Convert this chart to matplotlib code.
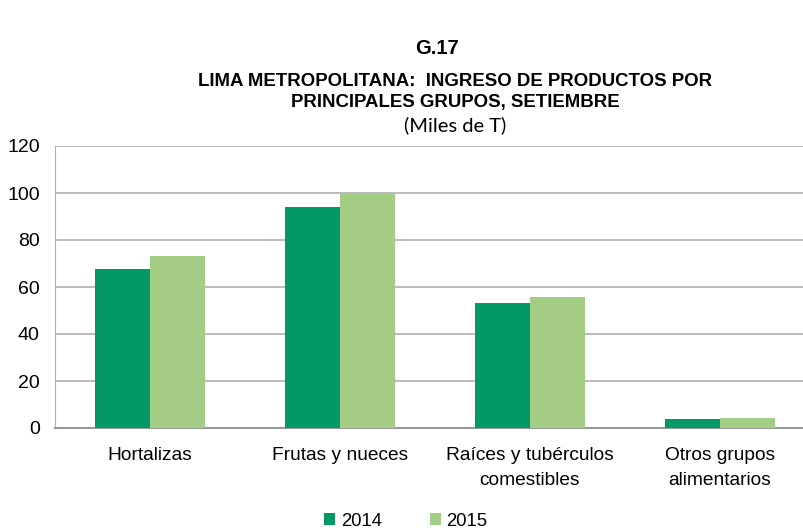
import numpy as np
import matplotlib.pyplot as plt

categories = ["Hortalizas", "Frutas y nueces", "Raíces y tubérculos\ncomestibles",
              "Otros grupos\nalimentarios"]
years = ["2014", "2015"]
values_2014 = [67.7, 94.0, 53.2, 3.8]
values_2015 = [73.2, 100.0, 55.7, 4.3]
yticks = [0, 20, 40, 60, 80, 100, 120]

col_2014 = "#039966"
col_2015 = "#a3cd85"

plt.rcParams['font.family'] = ['Liberation Sans', 'DejaVu Sans']

fig = plt.figure(figsize=(8.04, 5.31), dpi=100)
ax = fig.add_axes([55 / 804, 1 - 428 / 531, 760 / 804, 282 / 531])

x = np.arange(len(categories))
w = 0.29
ax.bar(x - w / 2, values_2014, w, color=col_2014, label=years[0], zorder=3)
ax.bar(x + w / 2, values_2015, w, color=col_2015, label=years[1], zorder=3)

ax.set_xlim(-0.5, len(categories) - 0.5)
ax.set_ylim(0, 120)
ax.set_yticks(yticks)
ax.set_xticks(x)
ax.set_xticklabels(categories, fontsize=13.8, linespacing=1.6)
ax.tick_params(axis='y', labelsize=14, length=0, pad=11)
ax.tick_params(axis='x', length=0, pad=14)
ax.grid(axis='y', color="#b0b0b0", linewidth=1.2, zorder=0)
for s in ['top', 'right']:
    ax.spines[s].set_visible(False)
ax.spines['left'].set_color("#b0b0b0")
ax.spines['bottom'].set_color("#999999")
ax.spines['bottom'].set_linewidth(1.5)

cx = 455 / 804
fig.text(437 / 804, 1 - 48 / 531, "G.17", ha='center', va='center', fontsize=14.5, fontweight='bold')
fig.text(cx, 1 - 81 / 531, "LIMA METROPOLITANA:  INGRESO DE PRODUCTOS POR",
         ha='center', va='center', fontsize=13.4, fontweight='bold')
fig.text(cx, 1 - 102 / 531, "PRINCIPALES GRUPOS, SETIEMBRE",
         ha='center', va='center', fontsize=13.4, fontweight='bold')
fig.text(cx, 1 - 125 / 531, "(Miles de T)", ha='center', va='center', fontsize=14.5,
         family=['Lato', 'DejaVu Sans'])

leg = fig.legend(loc='center', bbox_to_anchor=(406 / 804, 1 - 521 / 531),
                 ncol=2, frameon=False, fontsize=13.3, handlelength=0.6, handleheight=0.6,
                 handletextpad=0.3, columnspacing=2.6)

fig.savefig("out.png", dpi=100)
